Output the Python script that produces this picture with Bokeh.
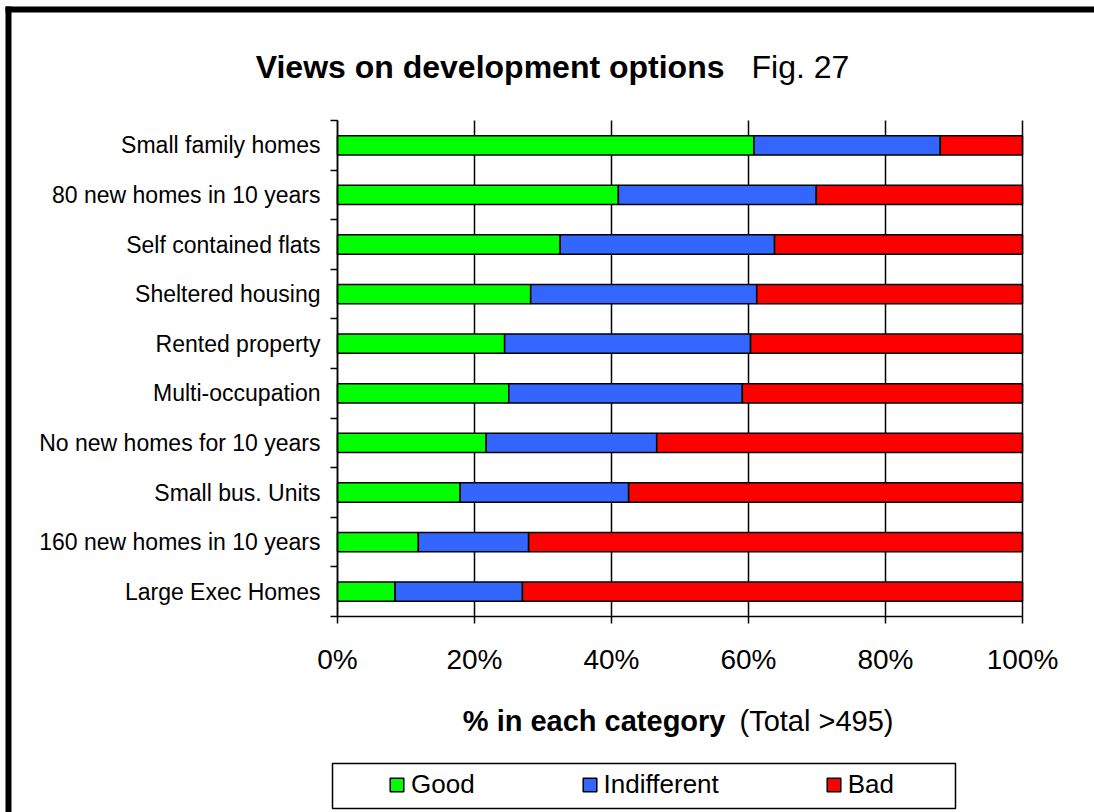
from bokeh.plotting import figure
from bokeh.models import (ColumnDataSource, Range1d, FixedTicker, Label, BoxAnnotation)
from bokeh.embed import file_html
from bokeh.resources import INLINE

# ---------------- data (top to bottom as in the chart) ----------------
categories = ["Small family homes", "80 new homes in 10 years", "Self contained flats",
              "Sheltered housing", "Rented property", "Multi-occupation",
              "No new homes for 10 years", "Small bus. Units",
              "160 new homes in 10 years", "Large Exec Homes"]
good = [60.8, 41.0, 32.5, 28.2, 24.4, 25.0, 21.7, 17.9, 11.8, 8.4]
indifferent = [27.2, 28.9, 31.3, 33.0, 35.9, 34.1, 24.9, 24.6, 16.1, 18.6]
bad = [12.0, 30.1, 36.2, 38.8, 39.7, 40.9, 53.4, 57.5, 72.1, 73.0]
x_ticks = [0, 20, 40, 60, 80, 100]
series = ["Good", "Indifferent", "Bad"]
colors = ["#00FF00", "#3366FF", "#FF0000"]

FONT = "Liberation Sans"
n = len(categories)
ypos = [n - 1 - i for i in range(n)]  # first category on top

source = ColumnDataSource(dict(y=ypos, cat=categories, Good=good,
                               Indifferent=indifferent, Bad=bad))

# canvas geometry: plot area spans px 337..1022 (x) and 120..616 (y)
W, H = 1094, 812
PX_L, PX_R, PX_T, PX_B = 337, 1022, 120, 616
sx = (PX_R - PX_L) / 100.0
sy = (PX_B - PX_T) / n
x0 = -PX_L / sx
x1 = (W - PX_L) / sx
y1 = (n - 0.5) + PX_T / sy
y0 = (n - 0.5) - (H - PX_T) / sy

p = figure(width=W, height=H, output_backend="svg", toolbar_location=None,
           x_range=Range1d(x0, x1), y_range=Range1d(y0, y1),
           min_border=0, min_border_left=0, min_border_right=0,
           min_border_top=0, min_border_bottom=0)
p.outline_line_color = None
p.background_fill_color = "white"
p.border_fill_color = "white"

p.hbar_stack(series, y="y", height=0.39, color=colors, source=source,
             line_color="black", line_width=1.5, legend_label=series)

# x axis
xt = FixedTicker(ticks=x_ticks)
p.xaxis.fixed_location = -0.5
p.xaxis.bounds = (0, 100)
p.xaxis.ticker = xt
p.xaxis.major_label_overrides = {t: f"{t}%" for t in x_ticks}
p.xaxis.major_label_text_font = FONT
p.xaxis.major_label_text_font_size = "28px"
p.xaxis.major_label_text_color = "black"
p.xaxis.major_label_standoff = 20
p.xaxis.major_tick_out = 7
p.xaxis.major_tick_in = 0
p.xaxis.minor_tick_line_color = None
p.xaxis.axis_line_color = "black"
p.xaxis.axis_line_width = 1.5
p.xaxis.major_tick_line_width = 1.5
p.xgrid.ticker = xt
p.xgrid.cross_bounds = (-0.5, n - 0.5)
p.xgrid.grid_line_color = "black"
p.xgrid.grid_line_width = 1.5
p.ygrid.grid_line_color = None

# y axis: labels at centres, ticks at category boundaries
yt = FixedTicker(ticks=list(range(n)), minor_ticks=[i - 0.5 for i in range(n + 1)])
p.yaxis.fixed_location = 0
p.yaxis.bounds = (-0.5, n - 0.5)
p.yaxis.ticker = yt
p.yaxis.major_label_overrides = {ypos[i]: categories[i] for i in range(n)}
p.yaxis.major_label_text_font = FONT
p.yaxis.major_label_text_font_size = "23px"
p.yaxis.major_label_text_color = "black"
p.yaxis.major_tick_out = 0
p.yaxis.major_tick_in = 0
p.yaxis.major_label_standoff = 10
p.yaxis.minor_tick_out = 7
p.yaxis.minor_tick_in = 0
p.yaxis.minor_tick_line_color = "black"
p.yaxis.minor_tick_line_width = 1.5
p.yaxis.axis_line_color = "black"
p.yaxis.axis_line_width = 1.5

def ydat(px):
    return (n - 0.5) - (px - PX_T) / sy

def xdat(px):
    return (px - PX_L) / sx

# title
p.add_layout(Label(x=xdat(724), y=ydat(66), text="Views on development options",
                   text_align="right", text_baseline="alphabetic",
                   text_font=FONT, text_font_size="32px", text_font_style="bold",
                   text_color="black"))
p.add_layout(Label(x=xdat(751), y=ydat(66), text="Fig. 27", text_align="left",
                   text_baseline="alphabetic", text_font=FONT,
                   text_font_size="32px", text_color="black"))

# x axis title
p.add_layout(Label(x=xdat(725), y=ydat(720), text="% in each category", text_align="right",
                   text_baseline="alphabetic", text_font=FONT, text_font_size="29px",
                   text_font_style="bold", text_color="black"))
p.add_layout(Label(x=xdat(739), y=ydat(720), text="(Total >495)", text_align="left",
                   text_baseline="alphabetic", text_font=FONT, text_font_size="29px",
                   text_color="black"))

# legend
lg = p.legend[0]
lg.orientation = "horizontal"
lg.location = (388, H - 800)
lg.padding = 0
lg.spacing = 106
lg.glyph_width = 17
lg.glyph_height = 17
lg.label_standoff = 6
lg.label_text_font = FONT
lg.label_text_font_size = "26px"
lg.label_text_color = "black"
lg.border_line_color = None
lg.background_fill_alpha = 0
lg.click_policy = "none"

# legend frame
p.add_layout(BoxAnnotation(left=xdat(332), right=xdat(955), top=ydat(763), bottom=ydat(808),
                           fill_alpha=0, line_color="black", line_width=1.5, line_alpha=1))

# outer chart border (left and top)
p.add_layout(BoxAnnotation(left=xdat(5), right=xdat(11), top=ydat(6), bottom=y0 - 1,
                           fill_color="black", fill_alpha=1, line_color=None))
p.add_layout(BoxAnnotation(left=xdat(5), right=x1 + 1, top=ydat(6), bottom=ydat(12),
                           fill_color="black", fill_alpha=1, line_color=None))

open("out.html", "w").write(file_html(p, INLINE))
